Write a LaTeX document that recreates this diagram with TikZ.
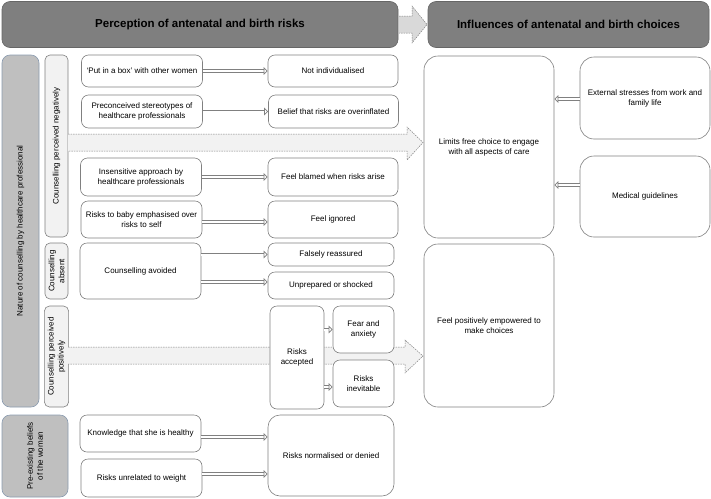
\documentclass[tikz,border=0pt]{standalone}
\usepackage{fontspec}
\setmainfont{Liberation Sans}
\usepackage{tikz}
\usetikzlibrary{arrows.meta}

\definecolor{headgray}{HTML}{7F7F7F}
\definecolor{sidegray}{HTML}{BFBFBF}
\definecolor{bandgray}{HTML}{F2F2F2}
\definecolor{linegray}{HTML}{808080}
\definecolor{bluegray}{HTML}{8A9BB0}

\tikzset{
  box/.style={draw=linegray, line width=0.6pt, fill=white, rounded corners=7pt,
    align=center, inner sep=2pt, font=\fontsize{8}{10}\selectfont},
  leftbox/.style={box, minimum width=121pt},
  rightbox/.style={box, minimum width=130pt},
  bigbox/.style={box, rounded corners=14pt, minimum width=130pt},
  headbox/.style={draw=headgray!80!black, line width=0.6pt, fill=headgray, rounded corners=8pt,
    minimum height=46pt, font=\fontsize{11.5}{13}\selectfont\bfseries},
  sidebox/.style={draw=bluegray, line width=0.6pt, fill=sidegray, rounded corners=8pt,
    rotate=90, align=center, font=\fontsize{8}{10}\selectfont},
  bandbox/.style={draw=linegray, line width=0.6pt, fill=bandgray, rounded corners=5pt,
    rotate=90, align=center, minimum height=23pt, font=\fontsize{8}{10}\selectfont},
  dblarrow/.style={draw=linegray, line width=0.7pt, double=white, double distance=2pt,
    -{Triangle[open, length=4pt, width=7.5pt]}},
  bigarrow/.style={draw=linegray, fill=bandgray, line width=0.5pt, dash pattern=on 1.5pt off 1pt}
}

\begin{document}
\begin{tikzpicture}[x=1pt, y=-1pt]
  \useasboundingbox (0,0) rectangle (711,498);

  % headers
  \node[headbox, minimum width=396pt] (perc) at (200,24.5) {Perception of antenatal and birth risks};
  \node[headbox, minimum width=281pt] (infl) at (568.5,24.5) {Influences of antenatal and birth choices};
  \draw[bigarrow, fill=headgray!30] (399,16) -- (412,16) -- (412,6) -- (427,24.5) -- (412,43) -- (412,33) -- (399,33);

  % side labels
  \node[sidebox, minimum width=352pt, minimum height=37pt] (nature) at (20.5,231)
    {Nature of counselling by healthcare professional};
  \node[sidebox, minimum width=82pt, minimum height=66pt] (beliefs) at (35,456)
    {Pre-existing beliefs\\of the woman};
  \node[bandbox, minimum width=182pt] (negative) at (56.5,146) {Counselling perceived negatively};
  \node[bandbox, minimum width=56pt] (absent) at (56.5,271) {Counselling\\absent};
  \node[bandbox, minimum width=101pt] (positive) at (56.5,356.5) {Counselling perceived\\positively};

  % wide dotted arrows
  \draw[bigarrow, draw=none] (68,134) -- (407,134) -- (407,127) -- (423,142.5) -- (407,160) -- (407,151) -- (68,151) -- cycle;
  \draw[bigarrow, fill=none] (68,134) -- (407,134) -- (407,127) -- (423,142.5) -- (407,160) -- (407,151) -- (68,151);
  \draw[bigarrow, draw=none] (68,347) -- (405,347) -- (405,340) -- (423,356) -- (405,373) -- (405,364) -- (68,364) -- cycle;
  \draw[bigarrow, fill=none] (68,347) -- (405,347) -- (405,340) -- (423,356) -- (405,373) -- (405,364) -- (68,364);

  % perceived negatively
  \node[leftbox, minimum height=32pt] (putbox) at (142,71) {`Put in a box' with other women};
  \node[leftbox, minimum height=33pt] (precon) at (142,111.5) {Preconceived stereotypes of\\healthcare professionals};
  \node[leftbox, minimum height=38pt] (insens) at (141,177) {Insensitive approach by\\healthcare professionals};
  \node[leftbox, minimum height=37pt] (babyrisk) at (141.5,219.5) {Risks to baby emphasised over\\risks to self};
  \node[rightbox, minimum height=32pt] (notind) at (333,71) {Not individualised};
  \node[rightbox, minimum height=33pt] (overinfl) at (333.5,111.5) {Belief that risks are overinflated};
  \node[rightbox, minimum height=38pt] (blamed) at (333,177) {Feel blamed when risks arise};
  \node[rightbox, minimum height=37pt] (ignored) at (333,219.5) {Feel ignored};

  % absent
  \node[leftbox, minimum height=56pt] (avoided) at (140.5,271) {Counselling avoided};
  \node[box, minimum width=126pt, minimum height=23pt] (falsely) at (331,254.5) {Falsely reassured};
  \node[box, minimum width=126pt, minimum height=27pt] (unprep) at (331,285.5) {Unprepared or shocked};

  % perceived positively
  \node[box, minimum width=54pt, minimum height=103pt] (accepted) at (297,357.5) {Risks\\accepted};
  \node[box, minimum width=61pt, minimum height=47pt] (fear) at (363.5,329.5) {Fear and\\anxiety};
  \node[box, minimum width=61pt, minimum height=47pt] (inevit) at (363.5,383.5) {Risks\\inevitable};

  % pre-existing beliefs
  \node[leftbox, minimum height=37pt] (healthy) at (140.5,433.5) {Knowledge that she is healthy};
  \node[leftbox, minimum height=38pt] (unrelated) at (141.5,478) {Risks unrelated to weight};
  \node[box, rounded corners=12pt, minimum width=126pt, minimum height=81pt] (normal) at (331,455.5) {Risks normalised or denied};

  % influences
  \node[bigbox, minimum height=182pt] (limits) at (489,147) {Limits free choice to engage\\with all aspects of care};
  \node[bigbox, minimum height=163pt] (empower) at (489,325.5) {Feel positively empowered to\\make choices};
  \node[bigbox, minimum height=82pt] (external) at (645,98) {External stresses from work and\\family life};
  \node[bigbox, minimum height=81pt] (medical) at (645,196.5) {Medical guidelines};

  % connectors
  \draw[dblarrow] (putbox) -- (notind);
  \draw[dblarrow] (precon) -- (overinfl);
  \draw[dblarrow] (insens) -- (blamed);
  \draw[dblarrow] (babyrisk.east |- 0,222) -- (ignored.west |- 0,222);
  \draw[dblarrow] (avoided.east |- falsely.west) -- (falsely.west);
  \draw[dblarrow] (avoided.east |- 0,282) -- (unprep.west |- 0,282);
  \draw[dblarrow] (accepted.east |- fear.west) -- (fear.west);
  \draw[dblarrow] (accepted.east |- 0,387) -- (inevit.west |- 0,387);
  \draw[dblarrow] (healthy.east |- 0,437) -- (normal.west |- 0,437);
  \draw[dblarrow] (unrelated.east |- 0,474) -- (normal.west |- 0,474);
  \draw[dblarrow] (external.west |- 0,99) -- (limits.east |- 0,99);
  \draw[dblarrow] (medical.west |- 0,185) -- (limits.east |- 0,185);
\end{tikzpicture}
\end{document}
